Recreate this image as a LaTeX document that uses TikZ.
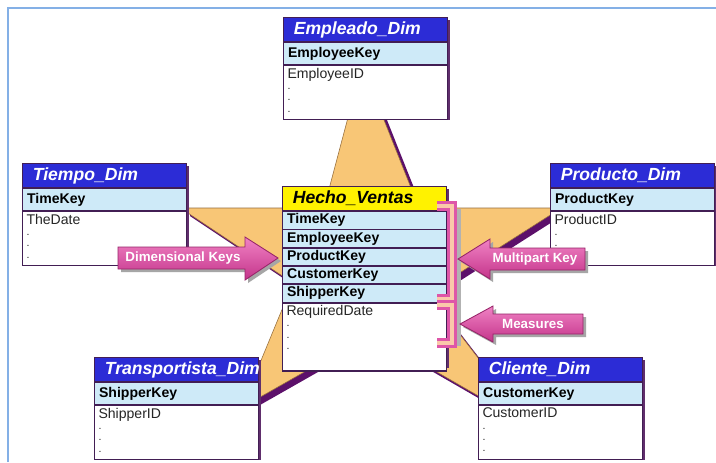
\documentclass[tikz,border=0pt]{standalone}
\usepackage{fontspec}
\setmainfont{Liberation Sans}
\usetikzlibrary{calc}
\definecolor{hdblue}{RGB}{44,44,214}
\definecolor{keyblue}{RGB}{206,234,248}
\definecolor{boxline}{RGB}{66,30,84}
\definecolor{boxshade}{RGB}{96,46,108}
\definecolor{starfill}{RGB}{248,198,118}
\definecolor{starline}{RGB}{150,110,60}
\definecolor{starshade}{RGB}{92,16,106}
\definecolor{pinkdark}{RGB}{196,52,138}
\definecolor{pinklight}{RGB}{240,130,196}
\definecolor{pinkrim}{RGB}{150,36,104}
\definecolor{brackpink}{RGB}{222,86,168}
\definecolor{brackfill}{RGB}{250,200,170}
\definecolor{framecol}{RGB}{132,176,230}
\tikzset{%
  tabhead/.style={draw=boxline,line width=0.8pt,fill=hdblue,text=white,anchor=north west,
    minimum width=4.1cm,minimum height=0.6cm,text width=102pt,inner xsep=7pt,inner ysep=0pt,
    font=\fontsize{12.5}{14}\selectfont\bfseries\itshape},
  facthead/.style={tabhead,fill=yellow,text=black},
  tabkey/.style={draw=boxline,line width=0.6pt,fill=keyblue,anchor=north west,
    minimum width=4.1cm,minimum height=0.55cm,text width=110pt,inner xsep=3pt,inner ysep=0pt,
    font=\fontsize{10}{12}\selectfont\bfseries},
  factkey/.style={tabkey,minimum height=0.435cm},
  tabbody/.style={draw=boxline,line width=0.8pt,fill=white,anchor=north west,
    minimum width=4.1cm,minimum height=1.35cm,inner sep=0pt},
  tabattr/.style={anchor=north west,align=left,inner xsep=3pt,inner ysep=2pt,text=black!85,
    font=\fontsize{10}{8}\selectfont},
  pkarrow/.style={draw=pinkrim,line width=0.6pt,top color=pinklight,bottom color=pinkdark},
  pkshade/.style={fill=black!35},
  arrowlabel/.style={text=white,inner sep=0pt,font=\fontsize{9.5}{11}\selectfont\bfseries},
  bracket/.style={draw=brackpink,line width=2pt,double=brackfill,double distance=2.5pt}
}
\newcommand{\attrdot}{{\fontsize{7.5}{8}\selectfont .}}
\newcommand{\dimtab}[6]{% name, x, y, title, key, attribute
  \fill[boxshade] (#2+3,#3+3) rectangle ++(164,100);
  \node[tabhead] (#1h) at (#2,#3) {#4};
  \node[tabkey] (#1k) at (#1h.south west) {#5};
  \node[tabbody] (#1b) at (#1k.south west) {};
  \node[tabattr] (#1a) at (#1b.north west) {#6\\\attrdot\\\attrdot\\\attrdot};
}
\begin{document}
\begin{tikzpicture}[x=0.025cm,y=-0.025cm]
  \useasboundingbox[fill=white] (0,0) rectangle (716,462);
  \draw[framecol,line width=1.2pt] (8,462) -- (8,8) -- (716,8);

  % star behind the tables
  \def\starpath{(350,110) -- (380,110) -- (419,208) -- (555,208) -- (555,212) -- (428,293)
    -- (482,363) -- (482,398) -- (371,334) -- (255,400) -- (255,375) -- (293,283)
    -- (185,211) -- (185,208) -- (324,208) -- cycle}
  \fill[starshade,shift={(5,5)}] \starpath;
  \filldraw[fill=starfill,draw=starline,line width=0.4pt] \starpath;

  % dimension tables
  \dimtab{emp}{283}{17}{Empleado\_Dim}{EmployeeKey}{EmployeeID}
  \dimtab{tie}{22}{163}{Tiempo\_Dim}{TimeKey}{TheDate}
  \dimtab{pro}{550}{163}{Producto\_Dim}{ProductKey}{ProductID}
  \dimtab{tra}{94}{357}{Transportista\_Dim}{ShipperKey}{ShipperID}
  \dimtab{cli}{478}{357}{Cliente\_Dim}{CustomerKey}{CustomerID}

  % fact table
  \fill[boxshade] (285,189) rectangle ++(164,179);
  \node[facthead] (hv) at (282,186) {Hecho\_Ventas};
  \node[factkey] (hv1) at (hv.south west) {TimeKey};
  \node[factkey] (hv2) at (hv1.south west) {EmployeeKey};
  \node[factkey] (hv3) at (hv2.south west) {ProductKey};
  \node[factkey] (hv4) at (hv3.south west) {CustomerKey};
  \node[factkey] (hv5) at (hv4.south west) {ShipperKey};
  \node[tabbody,minimum height=1.7cm] (hvb) at (hv5.south west) {};
  \node[tabattr] (hva) at (hvb.north west) {RequiredDate\\\attrdot\\\attrdot\\\attrdot};

  % brackets
  \draw[black!30,line width=6pt,shift={(5,3)}] (452,206) -- (452,343);
  \draw[bracket] (437,206) -- (452,206) -- (452,299) -- (437,299);
  \draw[bracket] (437,305) -- (452,305) -- (452,343) -- (437,343);

  % callout arrows
  \fill[pkshade,shift={(3,3)}] (118,247) -- (245,247) -- (245,237) -- (278,258) -- (245,280) -- (245,269) -- (118,269) -- cycle;
  \draw[pkarrow] (118,247) -- (245,247) -- (245,237) -- (278,258) -- (245,280) -- (245,269) -- (118,269) -- cycle;
  \node[arrowlabel] (dkl) at (183,258) {Dimensional Keys};

  \fill[pkshade,shift={(3,3)}] (585,248) -- (490,248) -- (490,239) -- (458,259) -- (490,279) -- (490,270) -- (585,270) -- cycle;
  \draw[pkarrow] (585,248) -- (490,248) -- (490,239) -- (458,259) -- (490,279) -- (490,270) -- (585,270) -- cycle;
  \node[arrowlabel] (mkl) at (535,259) {Multipart Key};

  \fill[pkshade,shift={(3,3)}] (583,314) -- (493,314) -- (493,306) -- (460,324) -- (493,342) -- (493,334) -- (583,334) -- cycle;
  \draw[pkarrow] (583,314) -- (493,314) -- (493,306) -- (460,324) -- (493,342) -- (493,334) -- (583,334) -- cycle;
  \node[arrowlabel] (msl) at (533,324) {Measures};
\end{tikzpicture}
\end{document}
